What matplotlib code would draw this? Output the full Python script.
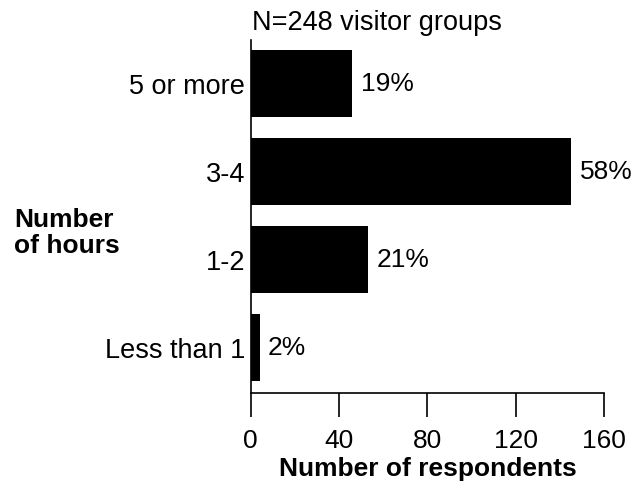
import matplotlib.pyplot as plt

plt.rcParams['font.family'] = ['Liberation Sans', 'DejaVu Sans']

# datos (de abajo hacia arriba)
categories = ["Less than 1", "1-2", "3-4", "5 or more"]
counts = [4, 53, 145, 46]
percent_labels = ["2%", "21%", "58%", "19%"]

fig = plt.figure(figsize=(6.39, 4.89), dpi=100)
ax = fig.add_axes([0.3923, 0.1943, 0.5534, 0.7219])

y = range(len(categories))
ax.barh(y, counts, height=0.76, color='black')

for yi, c, lab in zip(y, counts, percent_labels):
    ax.annotate(lab, (c, yi), xytext=(6, 0), textcoords='offset points',
                va='center', ha='left', fontsize=19)

ax.set_xlim(0, 160)
ax.set_ylim(-0.52, 3.49)
ax.set_xticks([0, 40, 80, 120, 160])
ax.set_yticks(list(y))
ax.set_yticklabels(categories)

ax.tick_params(axis='x', length=17, width=1.2, pad=8, labelsize=19, direction='out')
ax.tick_params(axis='y', length=0, pad=4, labelsize=19.5)

for s in ['top', 'right']:
    ax.spines[s].set_visible(False)
for s in ['left', 'bottom']:
    ax.spines[s].set_linewidth(1.2)

ax.set_xlabel("Number of respondents", fontsize=19, fontweight='bold', labelpad=3)
ax.text(0.005, 1.0 + 11 / 353, "N=248 visitor groups", transform=ax.transAxes,
        ha='left', va='baseline', fontsize=19.5)

fig.text(14 / 639, 1 - 233 / 489, "Number\nof hours", ha='left', va='center',
         fontsize=19, fontweight='bold', linespacing=1.12)

fig.savefig("out.png", dpi=100)
